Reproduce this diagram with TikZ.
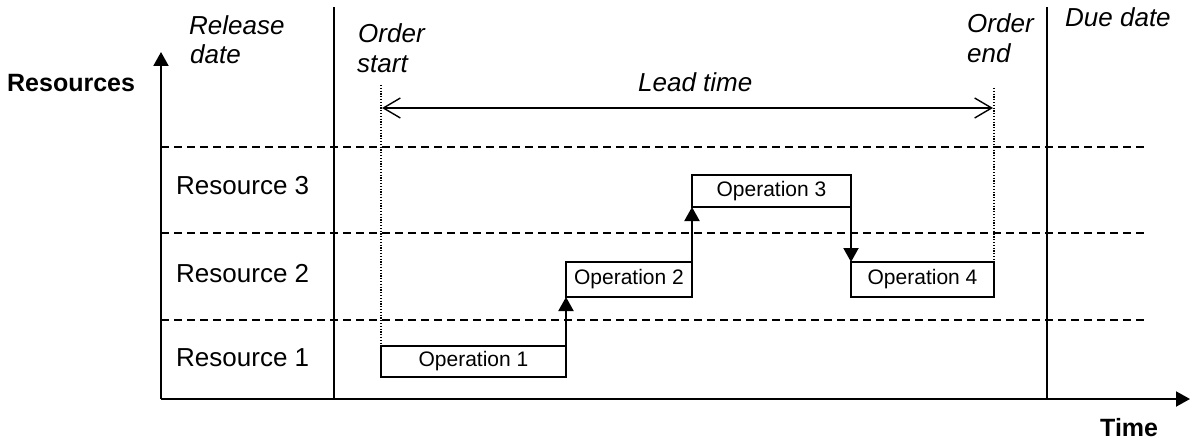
\documentclass[tikz,border=0pt]{standalone}
\usepackage{fontspec}
\setmainfont{Liberation Sans}
\usetikzlibrary{arrows.meta}
\begin{document}
\begin{tikzpicture}[x=1pt,y=-1pt,
  lbl/.style={anchor=base west,inner sep=0pt,font=\fontsize{26}{29}\selectfont},
  ilbl/.style={lbl,font=\fontsize{26}{29}\selectfont\itshape},
  blbl/.style={lbl,font=\fontsize{25}{29}\selectfont\bfseries},
  opbox/.style={draw,line width=1.6pt,inner sep=0pt,outer sep=0pt,
    font=\fontsize{21}{24}\selectfont},
  axis/.style={line width=2pt},
  mark line/.style={line width=2pt},
  lane/.style={line width=1.8pt,dash pattern=on 8pt off 5pt},
  guide/.style={line width=1.2pt,dash pattern=on 1.2pt off 1.6pt},
  flow/.style={line width=2pt,-{Triangle[length=14pt,width=15pt]}},
  span/.style={line width=1.4pt,{Straight Barb[length=17pt,width=20pt]}-{Straight Barb[length=17pt,width=20pt]}}]
\useasboundingbox (0,0) rectangle (1191,441);

% axes
\coordinate (origin) at (161,399);
\coordinate (ytip) at (161,52);
\coordinate (xtip) at (1190,399);
\draw[axis,-{Triangle[length=14pt,width=15pt]}] (origin) -- (ytip);
\draw[axis,-{Triangle[length=14pt,width=15pt]}] (origin) -- (xtip);

% release date and due date lines
\coordinate (relTop) at (334,7);
\coordinate (relBot) at (334,399);
\coordinate (dueTop) at (1047,7);
\coordinate (dueBot) at (1047,399);
\draw[mark line] (relTop) -- (relBot);
\draw[mark line] (dueTop) -- (dueBot);

% resource lanes
\coordinate (l1a) at (161,147); \coordinate (l1b) at (1145,147);
\coordinate (l2a) at (161,233); \coordinate (l2b) at (1145,233);
\coordinate (l3a) at (161,320); \coordinate (l3b) at (1145,320);
\draw[lane] (l1a) -- (l1b);
\draw[lane] (l2a) -- (l2b);
\draw[lane] (l3a) -- (l3b);

% operations
\node[opbox,minimum width=185pt,minimum height=31pt] (op1) at (473.5,361.5) {Operation 1};
\node[opbox,minimum width=126pt,minimum height=35pt] (op2) at (629,279.5) {Operation 2};
\node[opbox,minimum width=159pt,minimum height=32pt] (op3) at (771.5,191) {Operation 3};
\node[opbox,minimum width=143pt,minimum height=35pt] (op4) at (922.5,279.5) {Operation 4};

\draw[flow] (op1.north east) -- (op2.south west);
\draw[flow] (op2.north east) -- (op3.south west);
\draw[flow] (op3.south east) -- (op4.north west);

% order start / end guides and lead time
\coordinate (startTop) at (381,85);
\coordinate (endTop) at (994,88);
\draw[guide] (startTop) -- (op1.north west);
\draw[guide] (endTop) -- (op4.north east);
\coordinate (leadA) at (382,108);
\coordinate (leadB) at (993,108);
\draw[span] (leadA) -- (leadB);

% labels
\node[blbl] (resources) at (7,92) {Resources};
\node[blbl] (time) at (1100,436) {Time};
\node[lbl] (r3) at (176,194) {Resource 3};
\node[lbl] (r2) at (176,282) {Resource 2};
\node[lbl] (r1) at (176,366) {Resource 1};
\node[ilbl] (rel1) at (189,35) {Release};
\node[ilbl] (rel2) at (190,64) {date};
\node[ilbl] (os1) at (358,43) {Order};
\node[ilbl] (os2) at (357,73) {start};
\node[ilbl] (oe1) at (967,33) {Order};
\node[ilbl] (oe2) at (967,63) {end};
\node[ilbl] (due) at (1065,27) {Due date};
\node[ilbl] (lead) at (638,92) {Lead time};
\end{tikzpicture}
\end{document}
